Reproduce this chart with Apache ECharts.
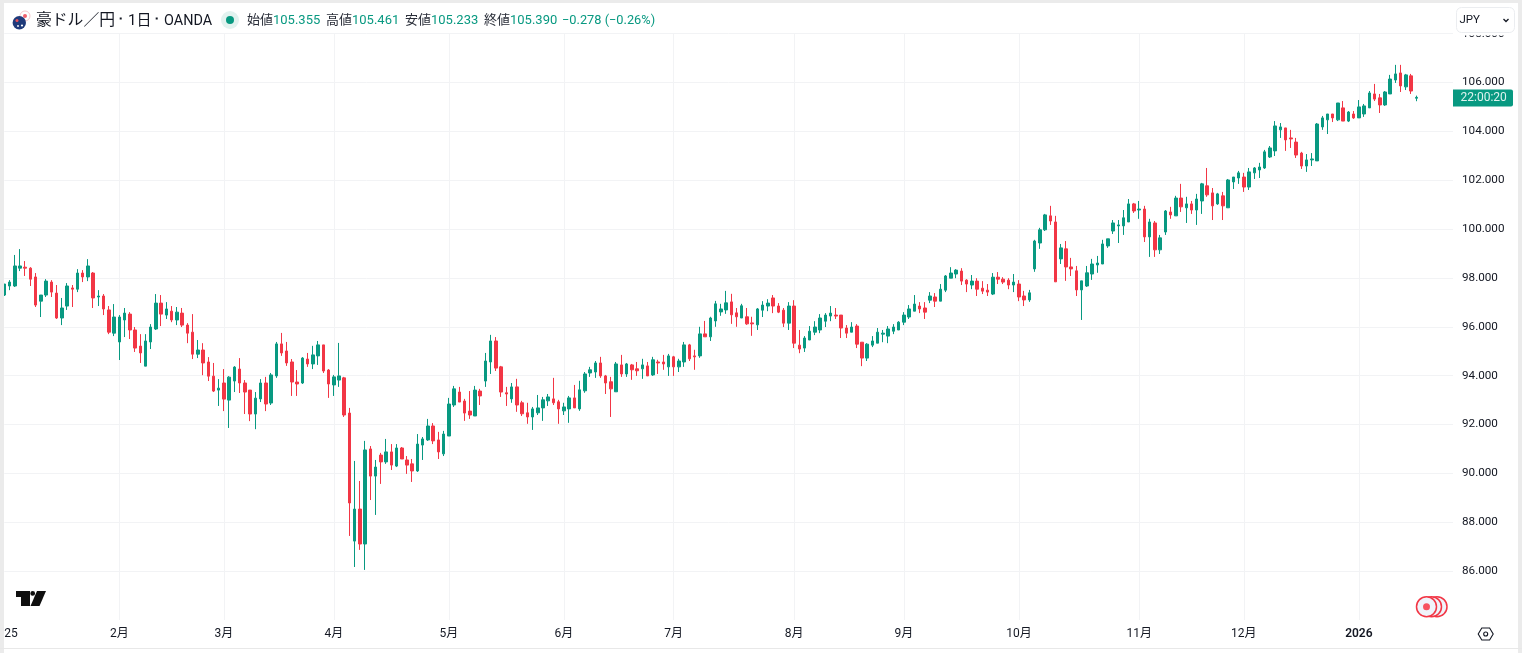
<!DOCTYPE html>
<html><head><meta charset="utf-8">
<style>html,body{margin:0;padding:0;background:#fff;overflow:hidden}#c{width:1522px;height:653px}</style>
<script src="https://cdn.jsdelivr.net/npm/echarts@6/dist/echarts.min.js"></script>
</head><body><div id="c"></div>
<script>
var opens=[97.30,97.67,97.67,98.40,98.44,98.40,98.04,97.05,97.30,97.83,
97.38,96.36,96.85,97.59,97.54,98.20,98.04,98.20,97.22,97.26,
96.69,95.74,95.38,96.28,96.52,95.87,95.21,94.39,95.38,95.91,
96.97,96.48,96.64,96.28,96.56,96.07,95.78,94.88,95.05,94.56,
93.98,93.41,93.70,93.00,93.78,94.27,93.70,93.41,92.43,93.05,
93.70,92.88,93.99,95.30,95.01,94.56,93.74,93.70,94.68,94.48,
94.81,95.26,94.23,93.62,93.82,93.91,92.47,87.23,88.54,87.11,
91.00,89.89,90.75,90.47,90.88,90.30,91.04,90.55,90.39,90.10,
91.16,91.37,91.94,91.37,90.80,91.53,92.80,93.33,92.96,92.55,
92.35,93.37,93.78,94.56,95.42,94.36,93.30,93.05,93.54,92.89,
92.48,92.31,92.48,92.68,92.97,93.05,92.93,92.56,92.64,93.09,
92.64,93.38,94.11,94.15,94.52,93.99,93.75,93.34,94.44,94.07,
94.44,94.28,94.28,94.40,94.03,94.56,94.56,94.36,94.77,94.36,
94.56,95.26,94.81,94.81,95.71,95.59,96.24,96.61,96.69,97.02,
96.57,96.36,96.41,96.16,96.08,96.68,96.85,97.18,96.85,96.68,
96.15,96.85,95.25,95.13,95.46,95.78,95.87,96.23,96.44,96.48,
96.48,95.95,95.78,96.03,95.37,94.72,95.25,95.33,95.70,95.62,
95.82,95.87,96.19,96.40,96.64,96.85,96.77,97.09,97.22,97.05,
97.50,97.99,98.16,98.28,97.91,97.71,97.87,97.58,97.50,97.34,
98.03,97.95,97.91,97.71,97.75,97.26,97.10,98.37,99.43,99.97,
100.54,100.29,98.78,99.19,98.45,98.29,97.51,97.67,98.16,98.53,
98.57,99.31,99.92,100.13,100.13,100.29,101.03,100.78,100.82,99.68,
100.25,99.15,99.88,100.70,100.54,101.27,100.87,101.03,100.78,101.15,
101.77,101.48,101.03,101.36,100.87,101.93,102.09,102.13,101.72,102.30,
102.42,102.50,102.95,103.20,104.06,104.14,103.73,103.56,103.11,102.58,
102.83,102.79,104.18,104.47,104.71,104.47,104.96,104.42,104.71,104.55,
104.71,104.96,105.53,105.37,105.08,105.53,106.10,106.39,105.82,106.27,105.355];
var closes=[97.75,97.83,98.49,98.49,98.40,97.95,96.89,97.30,97.87,97.42,
96.36,96.77,97.67,97.54,98.20,98.04,98.49,97.18,97.26,96.73,
95.78,96.40,96.40,96.56,95.87,95.13,94.93,95.42,95.99,96.97,
96.52,96.73,96.28,96.60,96.07,95.74,94.88,95.05,94.52,93.98,
93.37,93.49,93.04,93.94,94.35,93.70,93.33,92.43,93.08,93.70,
92.84,94.03,95.30,94.93,94.52,93.74,93.66,94.72,94.48,94.85,
95.26,94.19,93.66,93.95,93.99,92.39,88.79,88.54,87.11,90.96,
89.89,90.26,90.47,90.88,90.34,91.04,90.59,90.34,90.10,91.20,
91.41,91.94,91.33,90.88,91.61,92.84,93.46,92.92,92.47,92.39,
93.41,93.17,94.60,95.42,94.31,93.33,93.25,93.54,92.80,92.44,
92.31,92.64,92.68,93.01,93.13,92.89,92.64,92.72,93.09,92.68,
93.42,94.07,94.24,94.52,93.99,93.70,93.46,94.48,94.07,94.48,
94.24,94.20,94.44,93.99,94.65,94.52,94.48,94.81,94.36,94.60,
95.26,94.69,94.77,95.71,95.59,96.36,96.94,96.73,96.98,96.49,
96.41,96.86,96.12,96.12,96.73,96.89,96.97,96.85,96.60,96.15,
96.85,95.33,95.09,95.54,95.82,95.99,96.36,96.48,96.56,96.44,
95.95,95.74,95.99,95.29,94.72,95.29,95.42,95.78,95.74,95.91,
95.99,96.19,96.48,96.73,96.93,96.73,96.60,97.26,97.05,97.54,
98.08,98.20,98.32,97.87,97.75,97.87,97.54,97.46,97.42,98.03,
97.95,97.83,97.71,97.83,97.22,97.10,97.39,99.51,99.97,100.58,
100.33,97.84,99.23,98.45,98.37,97.51,97.88,98.21,98.57,98.61,
99.39,99.60,100.25,100.17,100.46,101.03,100.74,100.82,99.68,100.29,
99.15,99.64,100.74,100.58,101.27,100.91,101.03,100.78,101.23,101.85,
101.40,100.95,101.44,100.95,102.01,102.13,102.30,101.72,102.34,102.50,
102.54,103.16,103.32,104.22,104.18,103.65,103.69,103.03,102.58,102.83,
102.87,104.30,104.55,104.71,104.55,105.16,104.42,104.79,104.55,105.00,
105.04,105.57,105.32,105.08,105.61,106.14,106.35,105.86,106.31,105.65,105.39];
var highs=[97.75,97.91,98.94,99.18,98.69,98.44,98.20,97.30,97.95,97.91,
97.71,97.18,97.79,97.71,98.36,98.32,98.77,98.24,97.50,97.34,
96.85,96.93,96.48,96.77,96.60,95.99,95.70,95.70,96.11,97.34,
97.30,97.01,96.85,96.81,96.77,96.15,96.52,95.46,95.33,94.76,
94.52,93.86,94.27,93.98,94.39,94.72,93.82,93.41,93.33,93.86,
93.95,94.11,95.38,95.75,95.38,94.68,94.23,94.76,94.93,95.22,
95.42,95.26,94.27,94.03,95.34,93.95,92.68,90.51,89.69,91.33,
91.12,90.55,90.84,91.41,91.20,91.20,91.08,90.71,90.59,91.61,
91.49,92.23,92.06,91.70,91.74,93.09,93.58,93.54,93.05,93.37,
93.58,93.46,94.93,95.67,95.58,94.40,93.54,93.70,93.87,92.97,
92.89,92.72,93.21,93.13,93.25,93.91,93.01,92.89,93.17,93.62,
93.79,94.15,94.36,94.60,94.77,94.03,93.95,94.56,94.85,94.52,
94.48,94.56,94.69,94.56,94.77,94.65,94.85,94.89,94.81,94.69,
95.38,95.30,95.06,96.00,96.24,96.41,97.06,96.94,97.47,97.35,
96.77,96.94,96.77,96.41,96.77,97.05,97.13,97.30,96.97,96.77,
97.01,97.09,95.87,95.62,96.03,96.23,96.52,96.56,96.85,96.77,
96.48,96.07,96.19,96.11,95.37,95.33,95.62,95.95,95.87,96.03,
96.11,96.23,96.60,96.89,97.30,97.01,97.01,97.42,97.38,97.75,
98.12,98.44,98.36,98.40,97.95,98.12,97.99,97.87,97.75,98.20,
98.24,98.03,97.99,98.16,97.91,97.47,97.51,99.56,100.05,100.62,
100.95,100.54,99.39,99.51,98.82,98.49,97.88,98.49,98.78,98.90,
99.56,99.60,100.37,100.37,100.78,101.23,101.07,101.15,100.95,100.42,
100.33,99.76,100.78,100.91,101.36,101.85,101.32,101.15,101.44,101.89,
102.50,101.68,101.48,101.52,102.05,102.13,102.38,102.30,102.50,102.54,
102.71,103.24,103.40,104.42,104.34,104.14,104.06,103.73,103.16,103.07,
103.11,104.34,104.63,104.71,104.71,105.16,105.24,104.83,104.83,105.28,
105.12,105.65,105.94,105.53,105.65,106.31,106.72,106.72,106.35,106.35,105.461];
var lows=[97.26,97.50,97.63,98.28,98.08,97.67,96.81,96.40,97.22,97.22,
96.32,96.07,96.69,96.81,97.42,97.83,97.87,96.77,96.85,96.48,
95.70,95.62,94.64,95.58,95.50,94.97,94.52,94.39,95.09,95.87,
96.03,96.32,96.19,96.07,95.99,95.33,94.68,94.72,94.02,93.78,
93.33,92.76,92.55,91.86,93.33,93.29,92.43,92.14,91.81,92.92,
92.55,92.80,93.91,94.81,94.40,93.17,93.17,93.66,94.36,94.27,
94.44,94.11,93.09,93.17,93.54,92.31,87.44,86.17,86.87,86.05,
88.91,88.30,89.57,90.39,90.14,90.26,90.59,89.98,89.65,90.06,
90.55,91.33,91.20,90.59,90.71,91.53,92.72,92.92,92.15,92.23,
92.35,92.80,93.54,94.07,94.19,93.13,92.76,92.89,92.52,92.35,
92.03,91.78,92.39,92.15,92.76,92.80,92.03,92.39,92.07,92.68,
92.56,93.30,93.95,93.91,93.91,93.25,92.31,93.34,93.95,93.95,
93.83,93.99,93.87,93.99,93.99,94.07,94.24,93.99,93.99,94.15,
94.36,94.60,94.24,94.73,95.59,95.42,96.00,96.45,96.53,96.12,
96.00,96.36,96.08,95.63,95.87,96.40,96.64,96.56,96.56,95.99,
95.87,95.13,94.92,94.97,95.46,95.66,95.74,95.99,96.23,96.32,
95.54,95.54,95.78,95.13,94.39,94.60,95.17,95.33,95.37,95.33,
95.70,95.87,96.07,96.32,96.64,96.56,96.32,96.97,96.81,97.05,
97.42,97.99,97.99,97.71,97.42,97.54,97.26,97.34,97.26,97.30,
97.75,97.75,97.54,97.42,97.05,96.85,97.02,98.25,99.19,99.92,
100.17,97.84,98.57,97.88,98.08,97.26,96.28,97.63,97.92,98.21,
98.57,99.23,99.80,99.43,99.76,100.29,100.66,100.42,99.47,98.86,
98.86,98.98,99.76,100.42,100.54,100.70,100.25,100.62,100.17,100.62,
101.32,100.37,100.99,100.37,100.87,101.64,101.85,101.52,101.60,102.05,
102.09,102.46,102.91,102.99,103.73,103.20,103.32,102.91,102.46,102.34,
102.58,102.79,104.06,103.89,104.38,104.42,104.42,104.38,104.51,104.55,
104.59,104.96,105.24,104.75,105.04,105.53,105.98,105.61,105.69,105.53,105.233];
var monthBars=[0,22,42,63,85,107,128,151,172,194,217,237,259];
var monthLabels=['2025','2月','3月','4月','5月','6月','7月','8月','9月','10月','11月','12月','2026'];
var totalBars=278;

var UP='#089981',DOWN='#f23645',INK='#131722';
var FONT='Roboto, "Noto Sans CJK JP", sans-serif';
var labelAt={};
monthBars.forEach(function(b,i){labelAt[b]=monthLabels[i];});
var cats=[];for(var i=0;i<totalBars;i++)cats.push(String(i));
var candles=opens.map(function(o,i){return [o,closes[i],lows[i],highs[i]];});
function isMonth(i){return labelAt[i]!==undefined;}
function txt(x,y,s,size,color,align,weight){
  return {type:'text',z:110,silent:true,x:x,y:y,style:{text:s,fontSize:size,fontFamily:FONT,fill:color,
    textAlign:align||'left',textVerticalAlign:'middle',fontWeight:weight||'normal'}};
}
function rect(x,y,w,h,fill,r,stroke){
  return {type:'rect',z:105,silent:true,shape:{x:x,y:y,width:w,height:h,r:r||0},style:{fill:fill,stroke:stroke||null,lineWidth:1}};
}
function circle(cx,cy,r,fill,stroke,lw){
  return {type:'circle',z:106,silent:true,shape:{cx:cx,cy:cy,r:r},style:{fill:fill,stroke:stroke||null,lineWidth:lw||1}};
}
function poly(pts,fill,stroke,lw){
  return {type:'polygon',z:106,silent:true,shape:{points:pts},style:{fill:fill,stroke:stroke||null,lineWidth:lw||1}};
}
var G=[
  rect(0,0,4,653,'#ebebeb'),rect(0,0,1522,3,'#ebebeb'),rect(1518,0,4,653,'#ebebeb'),rect(0,648,1522,1,'#e8e8e8'),
  // symbol header
  circle(25,16,5,'#ffffff','#f6c6cb',1),circle(25,16,2,'#f0606c'),
  circle(19.3,22.7,6.7,'#1f3a7a'),
  circle(17,20.5,1.5,'#e8505b'),circle(22,25.5,1.1,'#ffffff'),circle(18,26,0.9,'#ffffff'),
  txt(36,21,'豪ドル／円',15.8,INK),
  rect(119.7,17.5,2,2,INK),
  txt(128,21,'1日',15,INK),
  rect(155.7,17.5,2,2,INK),
  txt(164,21,'OANDA',14.4,INK),
  circle(230,20,9,'#e2f2ef'),circle(230,20,4,UP),
  txt(247,21,'始値',13,'#2a2e39'),txt(273,21,'105.355',13,UP),
  txt(326,21,'高値',13,'#2a2e39'),txt(352,21,'105.461',13,UP),
  txt(405,21,'安値',13,'#2a2e39'),txt(431,21,'105.233',13,UP),
  txt(484,21,'終値',13,'#2a2e39'),txt(510,21,'105.390',13,UP),
  txt(562,21,'−0.278 (−0.26%)',12.8,UP),
  // currency button
  rect(1454,3,64,32.5,'#ffffff'),
  rect(1456.5,7.5,58,25,'#ffffff',5,'#ebedf0'),
  txt(1459.5,20,'JPY',11.5,INK),
  {type:'polyline',z:106,silent:true,shape:{points:[[1503.5,19],[1506,21.5],[1508.5,19]]},style:{stroke:INK,lineWidth:1.3,fill:null}},
  // countdown badge
  rect(1453,89.5,60,17,UP,[0,2,2,0]),
  txt(1460.5,98,'22:00:20',12,'#dff3ef'),
  // logo
  poly([[16,591],[30,591],[30,606],[21,606],[21,597],[16,597]],'#0f0f0f'),
  circle(32.7,593.4,2.4,'#0f0f0f'),
  poly([[37,591],[46,591],[39.5,606],[30.5,606]],'#0f0f0f'),
  // replay / events icon
  circle(1437,606.7,10,'#f0f3fa',DOWN,1.5),
  circle(1431.5,606.7,10,'#f0f3fa',DOWN,1.5),
  circle(1426.5,606.7,10,'#f0f3fa',DOWN,1.5),
  circle(1426.5,606.7,3.5,'#f7525f'),
  // settings hexagon
  poly([[1478.2,634],[1481.8,628],[1489.6,628],[1493.2,634],[1489.6,640],[1481.8,640]],null,INK,1.1),
  circle(1485.7,634,2,null,INK,1.1)
];
var chart=echarts.init(document.getElementById('c'),null,{renderer:'canvas'});
chart.setOption({
  animation:false,backgroundColor:'#ffffff',
  grid:{left:4.3,top:33.6,width:1448.7,height:586.4,containLabel:false,outerBoundsMode:'none'},
  xAxis:{type:'category',data:cats,boundaryGap:false,containShape:false,
    axisLine:{show:false},axisTick:{show:false,alignWithLabel:true},
    splitLine:{show:true,interval:function(i){return isMonth(i)&&i>0;},alignWithLabel:true,lineStyle:{color:'#f2f3f5',width:1}},
    axisLabel:{show:true,interval:function(i){return isMonth(i);},margin:8,hideOverlap:false,
      formatter:function(v,i){var s=labelAt[i]||'';return s==='2026'?'{y|2026}':s;},
      color:INK,fontSize:12,fontFamily:FONT,
      rich:{y:{fontWeight:600,color:INK,fontSize:12,fontFamily:FONT}}}},
  yAxis:{type:'value',position:'right',min:84,max:108,interval:2,scale:true,
    axisLine:{show:false},axisTick:{show:false},
    splitLine:{show:true,showMinLine:false,lineStyle:{color:'#f2f3f5',width:1}},
    axisLabel:{margin:9,color:INK,fontSize:11.7,fontFamily:FONT,padding:[8,0,0,0],
      formatter:function(v){return v===84?'':v.toFixed(3);}}},
  series:[{type:'candlestick',data:candles,barWidth:3,clip:true,
    itemStyle:{color:UP,color0:DOWN,borderColor:UP,borderColor0:DOWN,borderWidth:1}}],
  graphic:{elements:G}
});
</script></body></html>
